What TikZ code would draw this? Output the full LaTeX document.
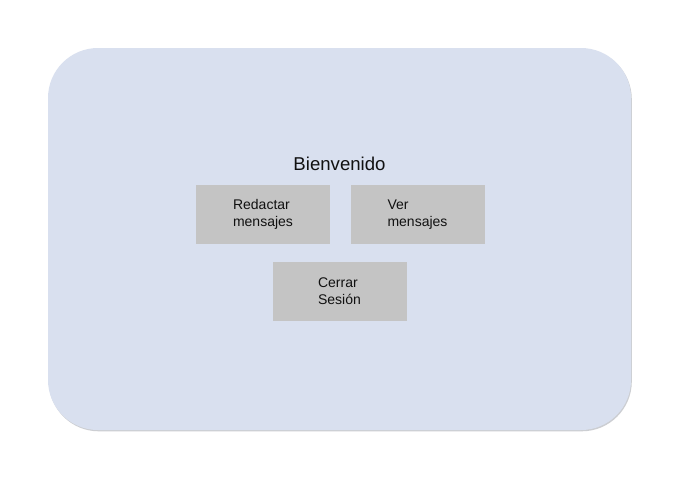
\documentclass[tikz,border=0pt]{standalone}
\usepackage{fontspec}
\setmainfont{Liberation Sans}
\definecolor{panelfill}{HTML}{D9E0EF}
\definecolor{boxfill}{HTML}{C4C4C4}
\definecolor{shadowc}{HTML}{CCCED2}
\definecolor{textc}{HTML}{111111}
\tikzset{
  panel/.style={rectangle, rounded corners=50pt, fill=panelfill, minimum width=583pt, minimum height=382pt, inner sep=0pt},
  panelshadow/.style={rectangle, rounded corners=50pt, fill=shadowc, minimum width=583pt, minimum height=382pt, inner sep=0pt},
  menubox/.style={rectangle, fill=boxfill, minimum width=134pt, minimum height=59pt, inner sep=0pt, align=left, font=\fontsize{14}{17}\selectfont, text=textc},
  titletext/.style={font=\fontsize{18.6}{20}\selectfont, text=textc, inner sep=0pt}
}
\begin{document}
\begin{tikzpicture}[x=1pt,y=-1pt]
\useasboundingbox (0,0) rectangle (679,482);
\fill[white] (0,0) rectangle (679,482);
\node[panelshadow] (shadow) at (340.3,240.3) {};
\node[panel] (panel) at (339.5,239) {};
\node[titletext] (title) at (339.5,164) {Bienvenido};
\node[menubox] (redactar) at (263,214.5) {Redactar\\mensajes};
\node[menubox] (ver) at (417.5,214.5) {Ver\\mensajes};
\node[menubox] (cerrar) at (339.5,291) {Cerrar\\Sesión};
\end{tikzpicture}
\end{document}
